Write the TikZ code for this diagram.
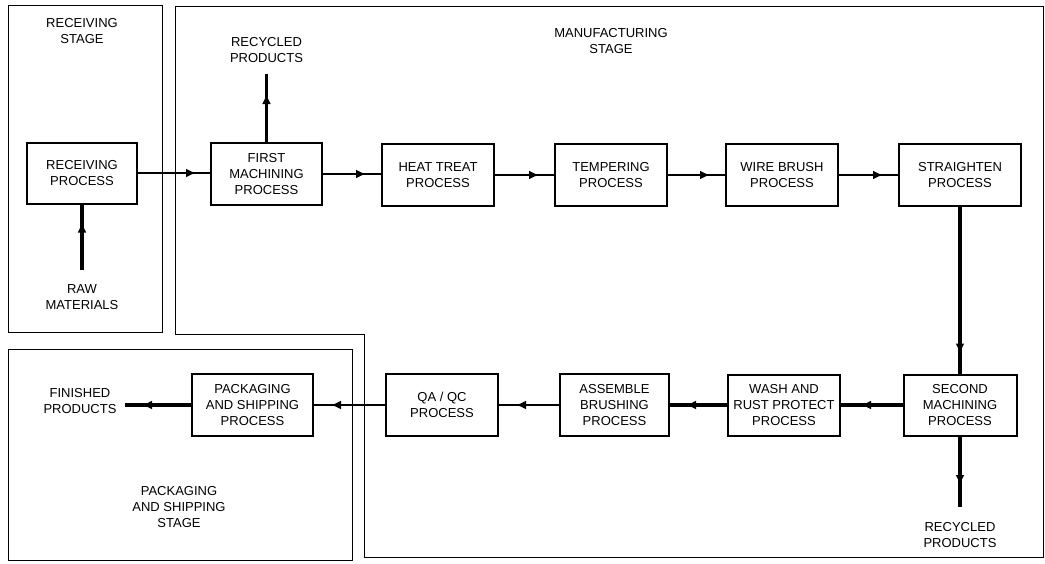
\documentclass[tikz,border=0pt]{standalone}
\usepackage{fontspec}
\setmainfont{Liberation Sans}
\usetikzlibrary{arrows.meta,decorations.markings}
\tikzset{
  proc/.style={draw, line width=2pt, inner sep=0pt, minimum width=112pt, minimum height=62pt, align=center, font=\fontsize{13}{16}\selectfont},
  lbl/.style={align=center, inner sep=0pt, font=\fontsize{13}{16}\selectfont},
  frame/.style={line width=1pt},
  flow/.style={line width=2.8pt, postaction={decorate}, decoration={markings, mark=at position #1 with {\arrow{Latex[length=10pt,width=9pt]}}}},
  flow/.default=-15pt
}
\begin{document}
\begin{tikzpicture}[x=1pt,y=-1pt]
\useasboundingbox (0,0) rectangle (1045,563);
% stage frames
\draw[frame] (8,5) rectangle (162,332);
\draw[frame] (175,6) -- (1043,6) -- (1043,557) -- (364,557) -- (364,334) -- (175,334) -- cycle;
\draw[frame] (8,349) rectangle (352,560);
% stage labels
\node[lbl] (lrec) at (82,31) {RECEIVING\\STAGE};
\node[lbl] (lman) at (611,41) {MANUFACTURING\\STAGE};
\node[lbl] (lpack) at (179,507) {PACKAGING\\AND SHIPPING\\STAGE};
% processes
\node[proc, minimum width=110pt, minimum height=61pt] (rec) at (82,173) {RECEIVING\\PROCESS};
\node[proc, minimum width=111pt] (fm) at (266.5,174) {FIRST\\MACHINING\\PROCESS};
\node[proc] (ht) at (438,175) {HEAT TREAT\\PROCESS};
\node[proc] (tp) at (611,175) {TEMPERING\\PROCESS};
\node[proc] (wb) at (782,175) {WIRE BRUSH\\PROCESS};
\node[proc, minimum width=122pt] (st) at (960,175) {STRAIGHTEN\\PROCESS};
\node[proc, minimum width=113pt, minimum height=61pt] (sm) at (960,405) {SECOND\\MACHINING\\PROCESS};
\node[proc, minimum height=61pt] (wr) at (784,405) {WASH AND\\RUST PROTECT\\PROCESS};
\node[proc, minimum width=109pt] (as) at (614.5,405) {ASSEMBLE\\BRUSHING\\PROCESS};
\node[proc] (qa) at (442,405) {QA / QC\\PROCESS};
\node[proc, minimum width=121pt] (pk) at (252.5,405) {PACKAGING\\AND SHIPPING\\PROCESS};
% free labels
\node[lbl] (raw) at (82,297) {RAW\\MATERIALS};
\node[lbl] (rtop) at (266.5,50) {RECYCLED\\PRODUCTS};
\node[lbl] (rbot) at (960,535) {RECYCLED\\PRODUCTS};
\node[lbl] (fin) at (80,401) {FINISHED\\PRODUCTS};
% connector ends
\coordinate (rawend) at (82,270);
\coordinate (rtopend) at (266.5,74);
\coordinate (rbotend) at (960,507);
\coordinate (finend) at (125,405);
% connectors
\draw[flow=-18pt, line width=3.6pt] (rawend) -- (rec.south);
\draw[flow=-14pt] (rec.east) -- (fm.west |- rec.east);
\draw[flow=-20pt] (fm.north) -- (rtopend);
\draw[flow] (fm.east) -- (ht.west |- fm.east);
\draw[flow] (ht.east) -- (tp.west);
\draw[flow] (tp.east) -- (wb.west);
\draw[flow] (wb.east) -- (st.west);
\draw[flow=-20pt, line width=3.6pt] (st.south) -- (sm.north);
\draw[flow=-22pt, line width=3.6pt] (sm.south) -- (rbotend);
\draw[flow=-20pt, line width=3.3pt] (sm.west) -- (wr.east);
\draw[flow=-16pt, line width=3.3pt] (wr.west) -- (as.east);
\draw[flow=-17pt] (as.west) -- (qa.east);
\draw[flow=-17pt] (qa.west) -- (pk.east);
\draw[flow=-17pt, line width=3.3pt] (pk.west) -- (finend);
\end{tikzpicture}
\end{document}
